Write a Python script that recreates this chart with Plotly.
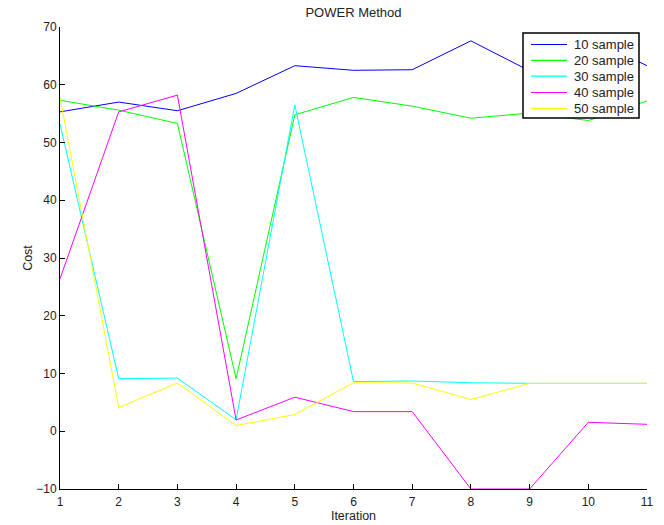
import plotly.graph_objects as go

# Iteration index and cost per sample size
iterations = [1, 2, 3, 4, 5, 6, 7, 8, 9, 10, 11]
cost_10 = [55.3, 57.0, 55.5, 58.5, 63.3, 62.5, 62.6, 67.6, 62.4, 68.2, 63.3]
cost_20 = [57.3, 55.6, 53.3, 9.1, 54.8, 57.8, 56.3, 54.2, 55.1, 53.8, 57.2]
cost_30 = [53.2, 9.1, 9.2, 2.0, 56.5, 8.6, 8.7, 8.4, 8.3, 8.35, 8.3]
cost_40 = [26.4, 55.3, 58.2, 1.95, 5.9, 3.4, 3.4, -10.0, -10.0, 1.55, 1.2]
cost_50 = [57.8, 4.1, 8.35, 1.0, 2.9, 8.4, 8.35, 5.5, 8.3, 8.3, 8.3]

series_names = ["10 sample", "20 sample", "30 sample", "40 sample", "50 sample"]
series_values = [cost_10, cost_20, cost_30, cost_40, cost_50]
series_colors = ["#0000ff", "#00ff00", "#00ffff", "#ff00ff", "#ffff00"]

W, H = 664, 525
ML, MR, MT, MB = 60, 17, 27, 36
PW, PH = W - ML - MR, H - MT - MB

def px_x(px):
    return (px - ML) / PW

def px_y(py):
    return (H - MB - py) / PH

fig = go.Figure()
for name, vals, col in zip(series_names, series_values, series_colors):
    fig.add_trace(go.Scatter(
        x=iterations, y=vals, mode="lines", name=name,
        line=dict(color=col, width=1), showlegend=False,
    ))

font_family = "Liberation Sans, Arial, Helvetica, sans-serif"
text_color = "#222222"

# Boxed legend in the upper-right corner: coloured line sample + label per series
shapes = [dict(
    type="rect", xref="paper", yref="paper",
    x0=px_x(523), x1=px_x(639), y0=px_y(118), y1=px_y(33),
    line=dict(color="black", width=1.5), fillcolor="white", layer="above",
)]
annotations = []
row_y = [44.5, 60.3, 76.2, 92.5, 108.3]
for name, col, ry in zip(series_names, series_colors, row_y):
    shapes.append(dict(
        type="line", xref="paper", yref="paper",
        x0=px_x(531), x1=px_x(567), y0=px_y(ry), y1=px_y(ry),
        line=dict(color=col, width=1.2), layer="above",
    ))
    annotations.append(dict(
        text=name, xref="paper", yref="paper", x=px_x(572), y=px_y(ry),
        xanchor="left", yanchor="middle", showarrow=False,
        font=dict(family=font_family, size=13, color=text_color),
    ))

fig.update_layout(
    width=W, height=H,
    margin=dict(l=ML, r=MR, t=MT, b=MB),
    paper_bgcolor="white", plot_bgcolor="white",
    font=dict(family=font_family, size=12, color=text_color),
    title=dict(text="POWER Method", x=(ML + W - MR) / 2 / W, xanchor="center",
               y=1 - 12.5 / H, yanchor="middle", font=dict(size=13)),
    showlegend=False,
    shapes=shapes,
    annotations=annotations,
)

fig.update_xaxes(
    range=[1, 11], tickvals=iterations, showgrid=False, zeroline=False,
    showline=True, linecolor="black", linewidth=1, mirror=False,
    ticks="inside", ticklen=5, tickcolor="black", automargin=False,
    ticklabelstandoff=2,
    title=dict(text="Iteration", standoff=0, font=dict(size=12.5)),
)
fig.update_yaxes(
    range=[-10, 70], dtick=10, showgrid=False, zeroline=False,
    showline=True, linecolor="black", linewidth=1, mirror=False,
    ticks="inside", ticklen=5, tickcolor="black", automargin=False,
    title=dict(text="Cost", standoff=0, font=dict(size=12.5)),
)

fig.write_html("out.html")
